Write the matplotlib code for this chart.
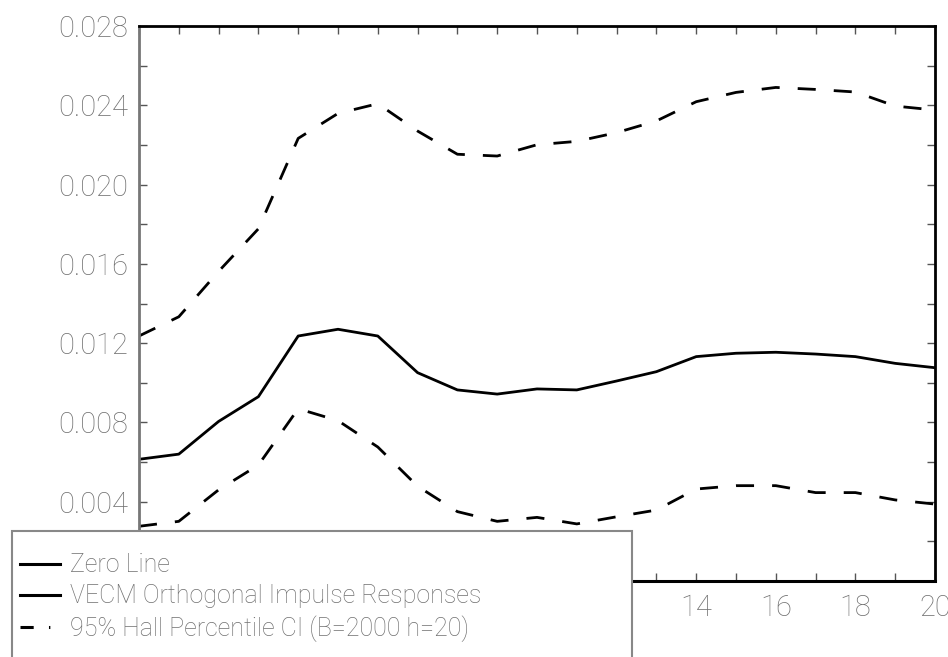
import numpy as np
import matplotlib
matplotlib.use('Agg')
import matplotlib.pyplot as plt
from matplotlib.lines import Line2D
from matplotlib.patches import Rectangle
from matplotlib.ticker import MultipleLocator, FuncFormatter

plt.rcParams['font.family'] = ['Roboto', 'DejaVu Sans']
plt.rcParams['font.weight'] = 'light'
plt.rcParams['lines.scale_dashes'] = False

# horizon 0..20
horizon = list(range(21))

irf = [0.00614, 0.00640, 0.00805, 0.00930, 0.01236, 0.01270, 0.01236, 0.01051,
       0.00964, 0.00943, 0.00969, 0.00964, 0.01009, 0.01056, 0.01132, 0.01149,
       0.01154, 0.01145, 0.01132, 0.01098, 0.01076]

ci_upper = [0.01236, 0.01333, 0.01562, 0.01777, 0.02233, 0.02359, 0.02408, 0.02270,
            0.02153, 0.02144, 0.02201, 0.02218, 0.02262, 0.02321, 0.02418, 0.02465,
            0.02490, 0.02480, 0.02467, 0.02396, 0.02376]

ci_lower = [0.00276, 0.00301, 0.00460, 0.00585, 0.00869, 0.00809, 0.00676, 0.00478,
            0.00350, 0.00301, 0.00321, 0.00288, 0.00324, 0.00358, 0.00464, 0.00481,
            0.00481, 0.00446, 0.00446, 0.00409, 0.00388]

zero = [0.0] * len(horizon)

labels = ["Zero Line", "VECM Orthogonal Impulse Responses",
          "95% Hall Percentile CI (B=2000 h=20)"]

W, H = 948, 657
fig = plt.figure(figsize=(W / 100, H / 100), dpi=100)
ax = fig.add_axes([139 / W, 1 - 581 / H, (935 - 139) / W, (581 - 26) / H])

dash = (13, 13)
ax.plot(horizon, zero, color='black', lw=2.2, clip_on=False, zorder=4)
ax.plot(horizon, irf, color='black', lw=2.0)
ax.plot(horizon, ci_upper, color='black', lw=2.0, dashes=dash)
ax.plot(horizon, ci_lower, color='black', lw=2.0, dashes=dash)

ax.set_xlim(0, 20)
ax.set_ylim(0, 0.028)

ax.xaxis.set_major_locator(MultipleLocator(2))
ax.xaxis.set_minor_locator(MultipleLocator(1))
ax.yaxis.set_major_locator(MultipleLocator(0.004))
ax.yaxis.set_minor_locator(MultipleLocator(0.002))
ax.yaxis.set_major_formatter(FuncFormatter(lambda v, p: f"{v:.3f}"))
# labels up to 12 sit under the legend box anyway
ax.xaxis.set_major_formatter(FuncFormatter(lambda v, p: f"{v:.0f}" if v > 12 else ""))

ax.tick_params(which='both', direction='in', top=True, right=True,
               length=6, width=1, color='#555555')
ax.tick_params(which='major', labelsize=21, labelcolor='#707070', pad=8)
ax.tick_params(axis='x', which='major', pad=9)

for side in ['top', 'bottom', 'right']:
    ax.spines[side].set_color('black')
    ax.spines[side].set_linewidth(2)
ax.spines['left'].set_color('#777777')
ax.spines['left'].set_linewidth(2)

# legend (box runs off the bottom of the figure, like the original)
handles = [Line2D([], [], color='black', lw=2.2),
           Line2D([], [], color='black', lw=2.2),
           Line2D([], [], color='black', lw=2.2, dashes=(9.5, 11, 1, 30))]
box = Rectangle((12 / W, -0.05), (632 - 12) / W, (0.05 + 1 - 531 / H),
                transform=fig.transFigure, facecolor='white',
                edgecolor='#888888', lw=1.5, zorder=5)
fig.patches.append(box)
leg = fig.legend(handles, labels, loc='upper left',
                 bbox_to_anchor=(12 / W, 1 - 546 / H),
                 frameon=False, fontsize=18, handlelength=1.6,
                 handletextpad=0.4, labelspacing=0.27, borderpad=0.3,
                 borderaxespad=0)
leg.set_zorder(6)
for t in leg.get_texts():
    t.set_color('#707070')

fig.savefig('out.png', dpi=100)
